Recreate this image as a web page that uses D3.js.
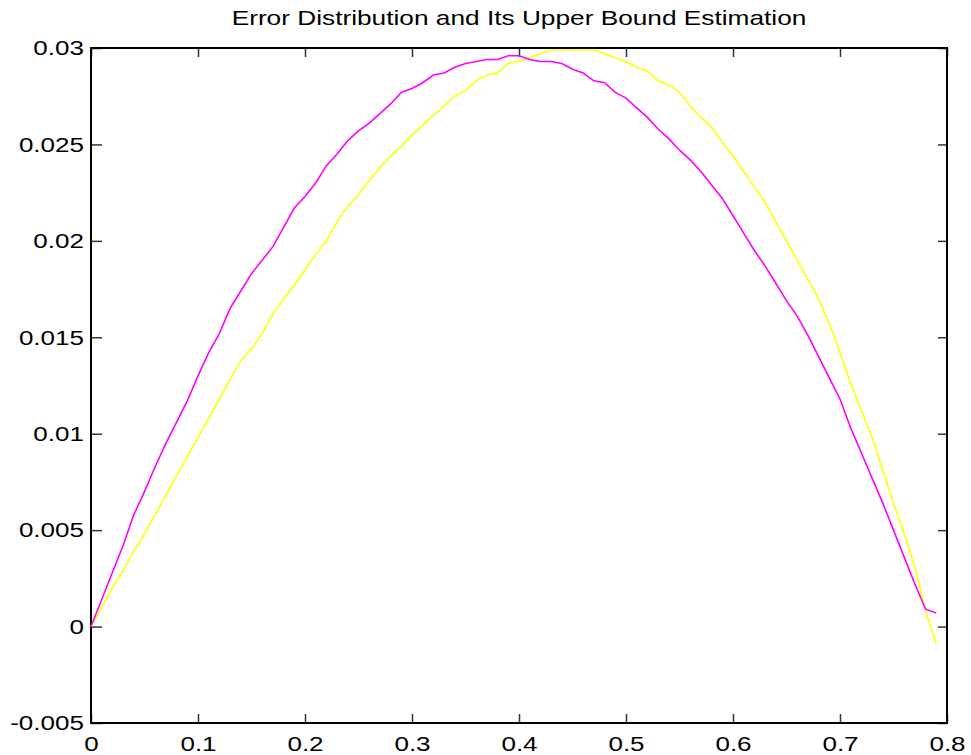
<!DOCTYPE html>
<html lang="en">
  <head>
    <meta charset="UTF-8" />
    <title>Error Distribution</title>
    <style>
      body { margin: 0; background: #fff; }
      svg { display: block; font-family: "Liberation Sans", Arial, sans-serif; }
      .tick text { fill: #000; }
    </style>
  </head>
  <body>
    <script src="https://cdn.jsdelivr.net/npm/d3@7"></script>
    <script>

    // sample positions, one every 0.01
    var xs = d3.range(80).map(function(i) { return +(i * 0.01).toFixed(2); });

    // error distribution (magenta)
    var errorVals = [
      0, 0.0014, 0.0028, 0.0042, 0.0058, 0.0070, 0.0083, 0.0095, 0.0106, 0.0117,
      0.0130, 0.0142, 0.0152, 0.0165, 0.0174, 0.0183, 0.0190, 0.0197, 0.0207, 0.0217,
      0.0223, 0.0230, 0.0239, 0.0245, 0.0252, 0.0257, 0.0261, 0.0266, 0.0271, 0.0277,
      0.0279, 0.0282, 0.0286, 0.0287, 0.0290, 0.0292, 0.0293, 0.0294, 0.0294, 0.0296,
      0.0296, 0.0294, 0.0293, 0.0293, 0.0292, 0.0289, 0.0287, 0.0283, 0.0282, 0.0277,
      0.0274, 0.0269, 0.0264, 0.0258, 0.0253, 0.0247, 0.0242, 0.0236, 0.0229, 0.0222,
      0.0213, 0.0204, 0.0195, 0.0187, 0.0178, 0.0169, 0.0161, 0.0151, 0.0140, 0.0129,
      0.0118, 0.0103, 0.0090, 0.0077, 0.0064, 0.0050, 0.0036, 0.0022, 0.0009, 0.0007
    ];

    // upper bound estimation (yellow)
    var boundVals = [
      0, 0.0010, 0.0020, 0.0029, 0.0039, 0.0048, 0.0058, 0.0068, 0.0078, 0.0088,
      0.0098, 0.0108, 0.0118, 0.0128, 0.0138, 0.0144, 0.0152, 0.0162, 0.0170, 0.0177,
      0.0185, 0.0193, 0.0200, 0.0210, 0.0218, 0.0224, 0.0231, 0.0238, 0.0244, 0.0249,
      0.0255, 0.0260, 0.0265, 0.0270, 0.0275, 0.0278, 0.0283, 0.0286, 0.0287, 0.0292,
      0.0293, 0.0295, 0.0297, 0.0299, 0.0299, 0.0299, 0.0299, 0.0299, 0.0297, 0.0295,
      0.0293, 0.0290, 0.0288, 0.0283, 0.0281, 0.0277, 0.0270, 0.0264, 0.0259, 0.0251,
      0.0244, 0.0236, 0.0228, 0.0220, 0.0210, 0.0200, 0.0190, 0.0180, 0.0170, 0.0157,
      0.0142, 0.0126, 0.0112, 0.0098, 0.0081, 0.0064, 0.0048, 0.0031, 0.0008, -0.0009
    ];

    var xTicks = [0, 0.1, 0.2, 0.3, 0.4, 0.5, 0.6, 0.7, 0.8];
    var yTicks = [-0.005, 0, 0.005, 0.01, 0.015, 0.02, 0.025, 0.03];

    var w = 971, h = 755;
    var margin = { top: 48, right: 24, bottom: 32, left: 91 };
    var iw = w - margin.left - margin.right,
        ih = h - margin.top - margin.bottom;

    // the original text looks stretched sideways
    var stretch = 1.24;

    var svg = d3.select("body").append("svg")
      .attr("width", w)
      .attr("height", h);

    var g = svg.append("g")
      .attr("transform", "translate(" + margin.left + "," + margin.top + ")");

    var xScale = d3.scaleLinear().domain([0, 0.8]).range([0, iw]);
    var yScale = d3.scaleLinear().domain([-0.005, 0.03]).range([ih, 0]);

    var fmt = function(d) { return String(+d.toFixed(3)); };

    // ticks point inward on all four sides
    var xBottom = d3.axisBottom(xScale).tickValues(xTicks).tickFormat(fmt)
      .tickSizeInner(-9).tickSizeOuter(0).tickPadding(8);
    var xTop = d3.axisTop(xScale).tickValues(xTicks).tickFormat("")
      .tickSizeInner(-9).tickSizeOuter(0);
    var yLeft = d3.axisLeft(yScale).tickValues(yTicks).tickFormat(fmt)
      .tickSizeInner(-11).tickSizeOuter(0).tickPadding(7);
    var yRight = d3.axisRight(yScale).tickValues(yTicks).tickFormat("")
      .tickSizeInner(-9).tickSizeOuter(0);

    function styleAxis(sel) {
      sel.select(".domain").remove();
      sel.selectAll(".tick line").attr("stroke", "#333").attr("stroke-width", 1.5);
      sel.selectAll(".tick text").attr("font-size", 21);
    }

    var gx = g.append("g").attr("transform", "translate(0," + ih + ")").call(xBottom).call(styleAxis);
    g.append("g").call(xTop).call(styleAxis);
    var gy = g.append("g").call(yLeft).call(styleAxis);
    g.append("g").attr("transform", "translate(" + iw + ",0)").call(yRight).call(styleAxis);

    gx.selectAll(".tick text")
      .attr("dy", "0.95em")
      .attr("transform", "scale(" + stretch + ",1)");

    gy.selectAll(".tick text")
      .attr("x", -7 / stretch)
      .attr("transform", "scale(" + stretch + ",1)");

    // axes box
    g.append("rect")
      .attr("width", iw)
      .attr("height", ih)
      .attr("fill", "none")
      .attr("stroke", "#000")
      .attr("stroke-width", 2);

    var line = d3.line()
      .x(function(d) { return xScale(d[0]); })
      .y(function(d) { return yScale(d[1]); });

    g.append("path")
      .datum(xs.map(function(x, i) { return [x, boundVals[i]]; }))
      .attr("fill", "none")
      .attr("stroke", "#ffff00")
      .attr("stroke-width", 1.6)
      .attr("d", line);

    g.append("path")
      .datum(xs.map(function(x, i) { return [x, errorVals[i]]; }))
      .attr("fill", "none")
      .attr("stroke", "#ff00ff")
      .attr("stroke-width", 1.6)
      .attr("d", line);

    svg.append("text")
      .attr("transform", "translate(" + (margin.left + iw / 2) + ",25) scale(1.25,1)")
      .attr("text-anchor", "middle")
      .attr("font-size", 21)
      .text("Error Distribution and Its Upper Bound Estimation");

    </script>
  </body>
</html>
